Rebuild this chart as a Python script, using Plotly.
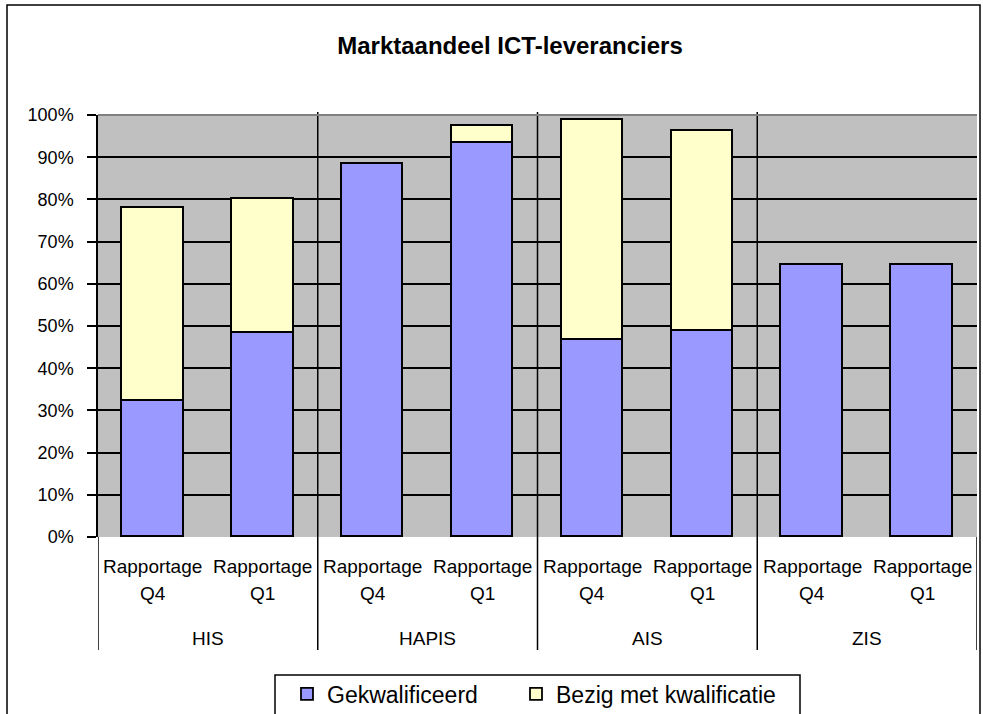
import plotly.graph_objects as go

# ---- data ----
groups = ["HIS", "HAPIS", "AIS", "ZIS"]
periods = ["Rapportage Q4", "Rapportage Q1"]
gekwalificeerd = [0.323, 0.484, 0.883, 0.934, 0.468, 0.488, 0.645, 0.645]
bezig = [0.456, 0.317, 0.0, 0.040, 0.519, 0.475, 0.0, 0.0]
series_names = ["Gekwalificeerd", "Bezig met kwalificatie"]
title_text = "Marktaandeel ICT-leveranciers"

# ---- geometry helpers (pixels) ----
W, H = 983, 714
L, R, T, B = 98, 977, 115, 537
PW, PH = R - L, B - T

def py(ypx):
    return (B - ypx) / PH

def px(xpx):
    return (xpx - L) / PW

n_cat = len(groups) * len(periods)
xpos = list(range(n_cat))

FONT = "Liberation Sans, Arial, sans-serif"
line = dict(color="black", width=1.8)

fig = go.Figure()
fig.add_trace(go.Bar(x=xpos, y=gekwalificeerd, name=series_names[0],
                     marker=dict(color="#9999FF", line=line), width=0.56,
                     legend="legend"))
fig.add_trace(go.Bar(x=xpos, y=bezig, name=series_names[1],
                     marker=dict(color="#FFFFCC", line=line), width=0.56,
                     legend="legend2"))

shapes = []
annotations = []
for k in range(len(groups) + 1):
    xb = k * len(periods) - 0.5
    top = py(112) if 0 < k < len(groups) else 0
    shapes.append(dict(type="line", xref="x", yref="paper", x0=xb, x1=xb,
                       y0=py(650), y1=top, line=dict(color="black", width=1.5)))
shapes.append(dict(type="line", xref="paper", yref="paper", x0=0, x1=1, y0=1, y1=1,
                   line=dict(color="#808080", width=2)))
# outer chart border
shapes.append(dict(type="rect", xref="paper", yref="paper",
                   x0=px(7), x1=px(980), y0=py(740), y1=py(5),
                   line=dict(color="black", width=1.5),
                   fillcolor="rgba(0,0,0,0)", layer="below"))
# legend box
shapes.append(dict(type="rect", xref="paper", yref="paper",
                   x0=px(275), x1=px(800), y0=py(740), y1=py(675),
                   line=dict(color="black", width=1.5),
                   fillcolor="white", layer="below"))

i = 0
for g in groups:
    for p in periods:
        w1, w2 = p.split(" ")
        annotations.append(dict(x=xpos[i], y=py(566), xref="x", yref="paper", text=w1,
                                showarrow=False, font=dict(size=19, family=FONT, color="black"),
                                xanchor="center", yanchor="middle"))
        annotations.append(dict(x=xpos[i], y=py(593), xref="x", yref="paper", text=w2,
                                showarrow=False, font=dict(size=19, family=FONT, color="black"),
                                xanchor="center", yanchor="middle"))
        i += 1
for gi, g in enumerate(groups):
    xc = gi * len(periods) + (len(periods) - 1) / 2
    annotations.append(dict(x=xc, y=py(638), xref="x", yref="paper", text=g,
                            showarrow=False, font=dict(size=19, family=FONT, color="black"),
                            xanchor="center", yanchor="middle"))

leg_common = dict(orientation="h", xanchor="left", yanchor="middle",
                  borderwidth=0, bgcolor="rgba(0,0,0,0)",
                  font=dict(size=23, family=FONT, color="black"), itemwidth=30)

fig.update_layout(
    width=W, height=H,
    margin=dict(l=L, r=W - R, t=T, b=H - B, autoexpand=False),
    barmode="stack",
    paper_bgcolor="white",
    plot_bgcolor="#C0C0C0",
    title=dict(text="<b>" + title_text + "</b>", x=510 / W, xref="container", xanchor="center",
               y=1 - 46 / H, yref="container", yanchor="middle",
               font=dict(size=24, family=FONT, color="black")),
    font=dict(family=FONT, size=18, color="black"),
    xaxis=dict(range=[-0.5, n_cat - 0.5], showticklabels=False, showgrid=False,
               zeroline=False, showline=False, ticks=""),
    yaxis=dict(range=[0, 1], tickformat=".0%", dtick=0.1, tick0=0,
               showgrid=True, gridcolor="black", gridwidth=1.5,
               zeroline=False, showline=True, linecolor="black", linewidth=1.5,
               ticks="outside", ticklen=9, tickwidth=1.5, tickcolor="black",
               ticklabelstandoff=10,
               tickfont=dict(size=18, family=FONT, color="black")),
    legend=dict(x=px(287), y=py(694), **leg_common),
    legend2=dict(x=px(516), y=py(694), **leg_common),
    shapes=shapes,
    annotations=annotations,
    showlegend=True,
    bargap=0,
)

fig.write_html("out.html", config={"displayModeBar": False},
               post_script="document.body.style.margin='0';document.body.style.overflow='hidden';")
